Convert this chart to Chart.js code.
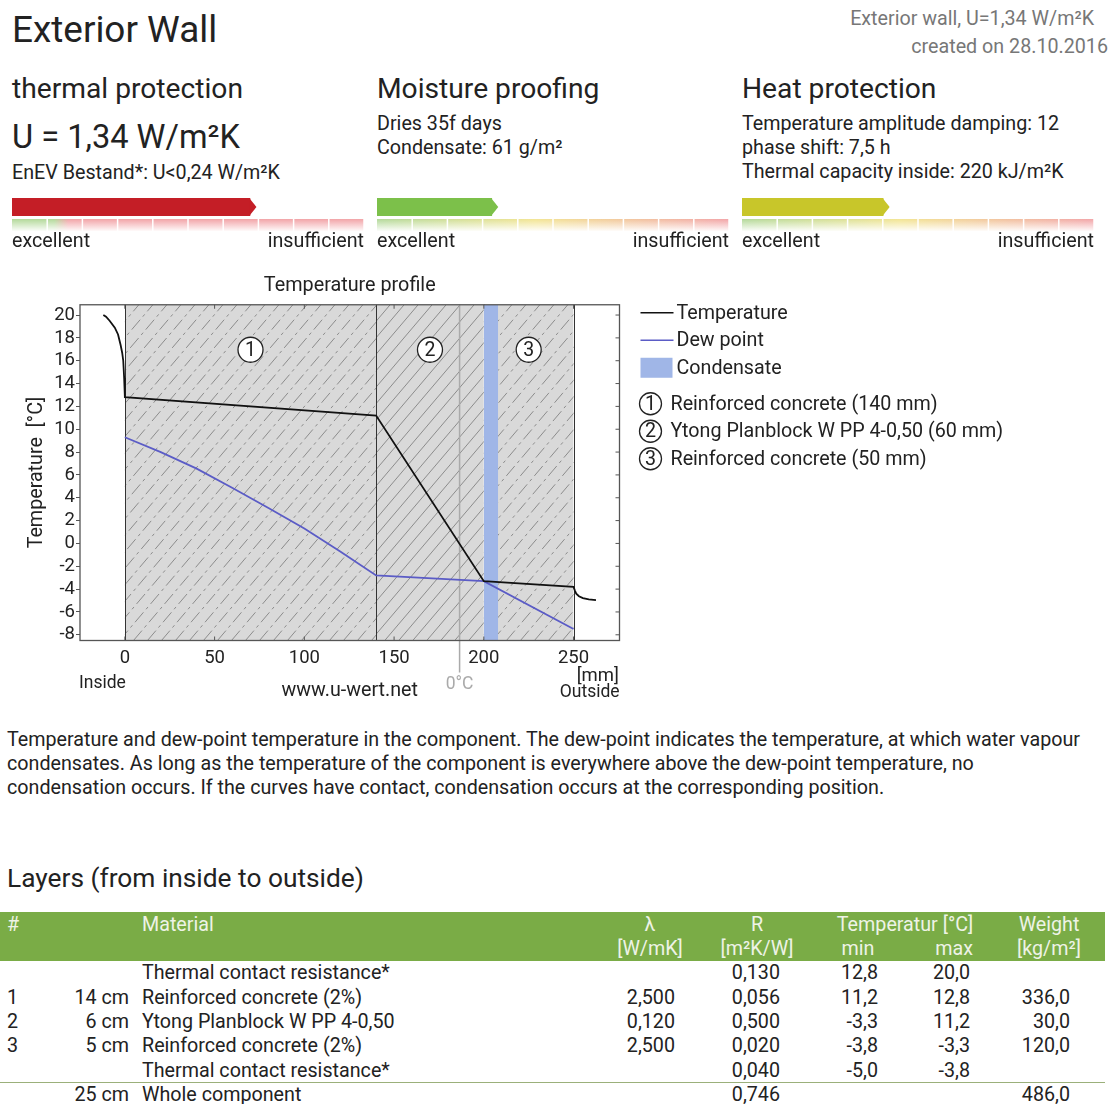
<!DOCTYPE html>
<html>
<head>
<meta charset="utf-8">
<script src="https://cdn.jsdelivr.net/npm/chart.js@4.4.0/dist/chart.umd.min.js"></script>
<style>
html, body { margin: 0; padding: 0; background: #fff; }
body { width: 1110px; height: 1104px; position: relative; overflow: hidden; font-family: Roboto, sans-serif; color: #222; }
.t { position: absolute; white-space: nowrap; line-height: 1.2; font-size: 19.7px; }
.c { transform: translateX(-50%); }
.g { color: #777; }
canvas { position: absolute; }
#thead { position: absolute; left: 0; top: 912px; width: 1105px; height: 49px; background: #7aac46; }
#sep { position: absolute; left: 0; top: 1082px; width: 1105px; height: 1px; background: #9bb07a; }
</style>
</head>
<body>

<div class="t" style="left:12px;top:8px;font-size:36.9px">Exterior Wall</div>
<div class="t g" style="right:16px;top:7px">Exterior wall, U=1,34 W/m²K</div>
<div class="t g" style="right:2px;top:35px">created on 28.10.2016</div>

<div class="t" style="left:12px;top:72px;font-size:28.2px">thermal protection</div>
<div class="t" style="left:12px;top:118px;font-size:32.6px">U = 1,34 W/m²K</div>
<div class="t" style="left:12px;top:161px">EnEV Bestand*: U&lt;0,24 W/m²K</div>

<div class="t" style="left:377px;top:72px;font-size:28.2px">Moisture proofing</div>
<div class="t" style="left:377px;top:112px">Dries 35f days</div>
<div class="t" style="left:377px;top:136px">Condensate: 61 g/m²</div>

<div class="t" style="left:742px;top:72px;font-size:28.2px">Heat protection</div>
<div class="t" style="left:742px;top:112px">Temperature amplitude damping: 12</div>
<div class="t" style="left:742px;top:136px">phase shift: 7,5 h</div>
<div class="t" style="left:742px;top:160px">Thermal capacity inside: 220 kJ/m²K</div>

<canvas id="r0" width="352" height="48" style="left:12px;top:187px"></canvas>
<canvas id="r1" width="352" height="48" style="left:377px;top:187px"></canvas>
<canvas id="r2" width="352" height="48" style="left:742px;top:187px"></canvas>

<div class="t" style="left:12px;top:229px">excellent</div>
<div class="t" style="right:746px;top:229px">insufficient</div>
<div class="t" style="left:377px;top:229px">excellent</div>
<div class="t" style="right:381px;top:229px">insufficient</div>
<div class="t" style="left:742px;top:229px">excellent</div>
<div class="t" style="right:16px;top:229px">insufficient</div>

<canvas id="profile" width="1110" height="440" style="left:0;top:270px"></canvas>

<div class="t" style="left:7px;top:728px;line-height:24px">Temperature and dew-point temperature in the component. The dew-point indicates the temperature, at which water vapour<br>condensates. As long as the temperature of the component is everywhere above the dew-point temperature, no<br>condensation occurs. If the curves have contact, condensation occurs at the corresponding position.</div>

<div class="t" style="left:7px;top:863px;font-size:26.3px">Layers (from inside to outside)</div>

<div id="thead"></div>
<div id="sep"></div>
<div id="table"></div>

<script>
// ---- profile data ----
const layerEdges = [0, 140, 200, 250];
const layerNames = ['Reinforced concrete (140 mm)', 'Ytong Planblock W PP 4-0,50 (60 mm)', 'Reinforced concrete (50 mm)'];
const layerHatch = ['dash', 'solid', 'dash'];

const tempX = [-12, -10.5, -8.5, -5.6, -3.8, -2.4, -1.5, -0.9, -0.4, 0, 140, 200, 250, 250.8, 251.5, 253, 255.2, 258.5, 262.5];
const tempY = [20, 19.85, 19.5, 18.9, 18.3, 17.4, 16.7, 16.0, 14.5, 12.8, 11.2, -3.3, -3.8, -4.15, -4.4, -4.62, -4.79, -4.9, -4.97];

const dewX = [0, 20, 40, 60, 80, 100, 120, 140, 200, 250];
const dewY = [9.3, 8.0, 6.55, 4.85, 3.1, 1.3, -0.7, -2.8, -3.3, -7.5];

const condensateZone = [200, 208];
const zeroDegX = 186.5;

const xTicks = [0, 50, 100, 150, 200, 250];
const yTicks = [-8, -6, -4, -2, 0, 2, 4, 6, 8, 10, 12, 14, 16, 18, 20];
const xMin = -25, xMax = 275.6, yMin = -8.5, yMax = 20.9;

// ---- rating data ----
const ratingValues = [0.676, 0.326, 0.401];
const ratingColors = ['#c41e26', '#7cc04a', '#c8c62a'];
const ratingStrips = [
  [[0, '#b3d99a'], [0.12, '#b3d99a'], [0.16, '#f2a4a8'], [1, '#f2a4a8']],
  [[0, '#b3d99a'], [0.45, '#f3e593'], [1, '#f2a4a8']],
  [[0, '#b3d99a'], [0.45, '#f3e593'], [1, '#f2a4a8']]
];

// ---- table data ----
const layerNo = ['', '1', '2', '3', '', ''];
const thickness = ['', '14 cm', '6 cm', '5 cm', '', '25 cm'];
const material = ['Thermal contact resistance*', 'Reinforced concrete (2%)', 'Ytong Planblock W PP 4-0,50', 'Reinforced concrete (2%)', 'Thermal contact resistance*', 'Whole component'];
const lambda = ['', '2,500', '0,120', '2,500', '', ''];
const rValues = ['0,130', '0,056', '0,500', '0,020', '0,040', '0,746'];
const tMin = ['12,8', '11,2', '-3,3', '-3,8', '-5,0', ''];
const tMax = ['20,0', '12,8', '11,2', '-3,3', '-3,8', ''];
const weight = ['', '336,0', '30,0', '120,0', '', '486,0'];

Chart.defaults.font.family = 'Roboto, sans-serif';
Chart.defaults.color = '#222';

// rating bars
const ratingPlugin = {
  id: 'rating',
  beforeDatasetsDraw(chart) {
    const {ctx, scales: {x}} = chart;
    const stops = ratingStrips[chart.options.stripIndex];
    const x0 = x.getPixelForValue(0), x1 = x.getPixelForValue(1);
    const g = ctx.createLinearGradient(x0, 0, x1, 0);
    stops.forEach(s => g.addColorStop(s[0], s[1]));
    ctx.save();
    ctx.fillStyle = g;
    ctx.fillRect(x0, 32, x1 - x0, 12);
    const f = ctx.createLinearGradient(0, 32, 0, 44);
    f.addColorStop(0, 'rgba(255,255,255,0)');
    f.addColorStop(1, 'rgba(255,255,255,0.95)');
    ctx.fillStyle = f;
    ctx.fillRect(x0, 32, x1 - x0, 12);
    ctx.strokeStyle = '#fff';
    ctx.lineWidth = 1.5;
    for (let v = 0.1; v < 1; v += 0.1) {
      const px = x.getPixelForValue(v);
      ctx.beginPath(); ctx.moveTo(px, 32); ctx.lineTo(px, 44); ctx.stroke();
    }
    ctx.restore();
  },
  afterDatasetsDraw(chart) {
    const {ctx} = chart;
    const bar = chart.getDatasetMeta(0).data[0];
    const {x, y, height} = bar.getProps(['x', 'y', 'height'], true);
    ctx.save();
    ctx.fillStyle = chart.data.datasets[0].backgroundColor;
    ctx.beginPath();
    ctx.moveTo(x - 0.5, y - height / 2);
    ctx.lineTo(x + 6.5, y);
    ctx.lineTo(x - 0.5, y + height / 2);
    ctx.closePath();
    ctx.fill();
    ctx.restore();
  }
};

ratingValues.forEach((v, i) => {
  new Chart(document.getElementById('r' + i), {
    type: 'bar',
    data: { labels: [''], datasets: [{ data: [v], backgroundColor: ratingColors[i], barThickness: 17.5, borderWidth: 0 }] },
    options: {
      stripIndex: i,
      indexAxis: 'y',
      responsive: false,
      animation: false,
      layout: { padding: { bottom: 8 } },
      plugins: { legend: { display: false }, tooltip: { enabled: false } },
      scales: { x: { display: false, min: 0, max: 1 }, y: { display: false } }
    },
    plugins: [ratingPlugin]
  });
});

// profile chart
const FONT = 'Roboto, sans-serif';
function circled(ctx, cx, cy, r, n) {
  ctx.beginPath();
  ctx.arc(cx, cy, r, 0, Math.PI * 2);
  ctx.fillStyle = '#fff';
  ctx.fill();
  ctx.lineWidth = 1.3;
  ctx.strokeStyle = '#222';
  ctx.stroke();
  ctx.fillStyle = '#222';
  ctx.textAlign = 'center';
  ctx.textBaseline = 'middle';
  ctx.fillText(String(n), cx, cy + 1);
}

const wallPlugin = {
  id: 'wall',
  beforeDatasetsDraw(chart) {
    const {ctx, chartArea: a, scales: {x}} = chart;
    const h = a.bottom - a.top;
    ctx.save();
    for (let i = 0; i < layerNames.length; i++) {
      const x0 = x.getPixelForValue(layerEdges[i]), x1 = x.getPixelForValue(layerEdges[i + 1]);
      ctx.save();
      ctx.beginPath(); ctx.rect(x0, a.top, x1 - x0, h); ctx.clip();
      ctx.fillStyle = '#d9d9d9';
      ctx.fillRect(x0, a.top, x1 - x0, h);
      ctx.strokeStyle = '#8c8c8c';
      ctx.lineWidth = 1;
      ctx.setLineDash(layerHatch[i] === 'solid' ? [] : [13, 4, 3, 4]);
      const run = h * 0.85;
      for (let s = x0 - run; s < x1 + 2; s += 14) {
        ctx.beginPath(); ctx.moveTo(s, a.bottom); ctx.lineTo(s + run, a.top); ctx.stroke();
      }
      ctx.restore();
    }
    ctx.strokeStyle = '#333';
    ctx.lineWidth = 1;
    layerEdges.forEach(v => {
      const px = Math.round(x.getPixelForValue(v)) + 0.5;
      ctx.beginPath(); ctx.moveTo(px, a.top); ctx.lineTo(px, a.bottom); ctx.stroke();
    });
    const zx = x.getPixelForValue(zeroDegX);
    ctx.strokeStyle = '#aaa';
    ctx.lineWidth = 1.5;
    ctx.beginPath(); ctx.moveTo(zx, a.top); ctx.lineTo(zx, a.bottom + 32); ctx.stroke();
    ctx.font = '19.5px ' + FONT;
    for (let i = 0; i < layerNames.length; i++) {
      const mid = (layerEdges[i] + layerEdges[i + 1]) / 2;
      circled(ctx, x.getPixelForValue(mid), a.top + 45, 12.5, i + 1);
    }
    ctx.restore();
  },
  afterDraw(chart) {
    const {ctx, chartArea: a, scales: {x, y}} = chart;
    ctx.save();
    // frame
    ctx.strokeStyle = '#555';
    ctx.lineWidth = 1.3;
    ctx.strokeRect(a.left, a.top, a.right - a.left, a.bottom - a.top);
    // inside ticks
    ctx.lineWidth = 1;
    xTicks.forEach(v => {
      const px = x.getPixelForValue(v);
      ctx.beginPath(); ctx.moveTo(px, a.top); ctx.lineTo(px, a.top + 4);
      ctx.moveTo(px, a.bottom); ctx.lineTo(px, a.bottom - 4); ctx.stroke();
    });
    yTicks.forEach(v => {
      const py = y.getPixelForValue(v);
      ctx.beginPath(); ctx.moveTo(a.right, py); ctx.lineTo(a.right - 4, py); ctx.stroke();
    });
    // axis notes
    ctx.textAlign = 'center';
    ctx.textBaseline = 'middle';
    ctx.fillStyle = '#222';
    ctx.font = '17.5px ' + FONT;
    ctx.fillText('Inside', x.getPixelForValue(-12.5), 414);
    ctx.fillText('Outside', x.getPixelForValue(259), 423);
    ctx.font = '18.5px ' + FONT;
    ctx.fillText('[mm]', x.getPixelForValue(263.5), 406);
    ctx.font = '19.7px ' + FONT;
    ctx.fillText('www.u-wert.net', x.getPixelForValue(125.3), 421);
    ctx.fillStyle = '#aaa';
    ctx.font = '17.5px ' + FONT;
    ctx.fillText('0°C', x.getPixelForValue(zeroDegX), 415);
    // legend
    const lx = a.right + 21;
    ctx.font = '19.7px ' + FONT;
    chart.data.datasets.forEach((ds, i) => {
      const cy = a.top + 8 + i * 27.5;
      if (ds.fill) {
        ctx.fillStyle = ds.backgroundColor;
        ctx.fillRect(lx, cy - 10, 32, 20);
      } else {
        ctx.strokeStyle = ds.borderColor;
        ctx.lineWidth = 1.5;
        ctx.beginPath(); ctx.moveTo(lx, cy); ctx.lineTo(lx + 33, cy); ctx.stroke();
      }
      ctx.fillStyle = '#222';
      ctx.textAlign = 'left';
      ctx.fillText(ds.label, lx + 36, cy + 1);
    });
    layerNames.forEach((name, i) => {
      const cy = a.top + 99 + i * 27.5;
      circled(ctx, lx + 10, cy, 11, i + 1);
      ctx.textAlign = 'left';
      ctx.fillText(name, lx + 30, cy + 1);
    });
    ctx.restore();
  }
};

new Chart(document.getElementById('profile'), {
  type: 'line',
  data: {
    datasets: [
      { label: 'Temperature', data: tempX.map((v, i) => ({ x: v, y: tempY[i] })), borderColor: '#111', borderWidth: 1.8, pointRadius: 0, tension: 0, order: 1 },
      { label: 'Dew point', data: dewX.map((v, i) => ({ x: v, y: dewY[i] })), borderColor: '#5b5cc6', borderWidth: 1.8, pointRadius: 0, tension: 0, order: 2 },
      { label: 'Condensate', data: condensateZone.map(v => ({ x: v, y: yMax })), backgroundColor: '#a0b6e7', borderColor: 'rgba(0,0,0,0)', borderWidth: 0, pointRadius: 0, fill: 'start', order: 3 }
    ]
  },
  options: {
    responsive: false,
    animation: false,
    layout: { padding: { left: 0, right: 490.5, top: 0, bottom: 0 } },
    plugins: {
      legend: { display: false },
      tooltip: { enabled: false },
      title: { display: true, text: 'Temperature profile', fullSize: false, color: '#222', font: { size: 19.8, weight: 'normal' }, padding: { top: 4.4, bottom: 6.6 } }
    },
    scales: {
      x: {
        type: 'linear', min: xMin, max: xMax,
        afterBuildTicks: s => { s.ticks = xTicks.map(v => ({ value: v })); },
        afterFit: s => { s.height = 69.5; },
        grid: { display: false, drawTicks: false },
        border: { display: false },
        ticks: { autoSkip: false, maxRotation: 0, padding: 7, font: { size: 18.5 }, color: '#222' }
      },
      y: {
        min: yMin, max: yMax,
        afterBuildTicks: s => { s.ticks = yTicks.map(v => ({ value: v })); },
        afterFit: s => { s.width = 80; },
        grid: { drawOnChartArea: false, drawTicks: true, tickLength: 4, color: '#555' },
        border: { display: false },
        ticks: { autoSkip: false, padding: 1, font: { size: 18.5 }, color: '#222' },
        title: { display: true, text: 'Temperature  [°C]', color: '#222', font: { size: 19.7 }, padding: { top: 25.2, bottom: 0 } }
      }
    }
  },
  plugins: [wallPlugin]
});

// table
const table = document.getElementById('table');
function cell(text, x, top, align) {
  const d = document.createElement('div');
  d.className = 't';
  d.textContent = text;
  d.style.top = top + 'px';
  d.style.lineHeight = '24px';
  if (align === 'right') d.style.right = (1110 - x) + 'px';
  else d.style.left = x + 'px';
  if (align === 'center') d.classList.add('c');
  table.appendChild(d);
}
const headColor = '#eef3e6';
[['#', 7, 'left'], ['Material', 142, 'left'], ['λ', 650, 'center'], ['R', 757, 'center'], ['Temperatur [°C]', 905, 'center'], ['Weight', 1049, 'center']]
  .forEach(h => cell(h[0], h[1], 913, h[2]));
[['[W/mK]', 650, 'center'], ['[m²K/W]', 757, 'center'], ['min', 858, 'center'], ['max', 973, 'right'], ['[kg/m²]', 1049, 'center']]
  .forEach(h => cell(h[0], h[1], 937, h[2]));
Array.from(table.children).forEach(d => { d.style.color = headColor; });

const cols = [
  [layerNo, 7, 'left'], [thickness, 129, 'right'], [material, 142, 'left'], [lambda, 675, 'right'],
  [rValues, 780, 'right'], [tMin, 878, 'right'], [tMax, 970, 'right'], [weight, 1070, 'right']
];
material.forEach((m, r) => {
  const top = 961.3 + r * 24.3;
  cols.forEach(c => { if (c[0][r]) cell(c[0][r], c[1], top, c[2]); });
});
</script>
</body>
</html>
